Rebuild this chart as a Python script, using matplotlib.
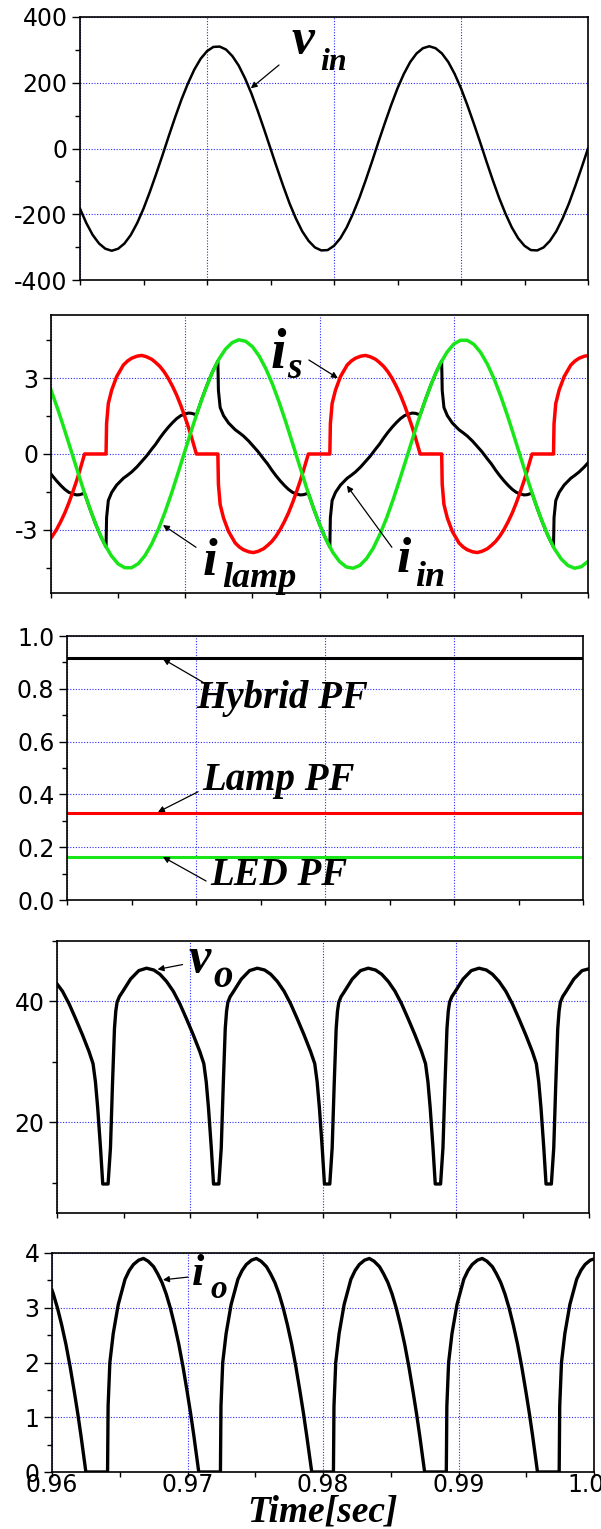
import numpy as np
import matplotlib
matplotlib.use('Agg')
import matplotlib.pyplot as plt
from matplotlib.ticker import MultipleLocator, FormatStrFormatter

plt.rcParams['axes.unicode_minus'] = False
plt.rcParams['font.family'] = 'DejaVu Sans'

# %% Data
# input voltage and lamp current, 0.5 ms samples
t_ac = np.linspace(0.96, 1.0, 81)
v_in = [-183, -227, -263, -289, -305, -311, -305, -289, -263, -227,
        -183, -132, -77, -20, 39, 96, 150, 198, 240, 273,
        296, 309, 310, 301, 281, 252, 213, 167, 114, 58,
        0, -58, -114, -167, -213, -252, -281, -301, -310, -309,
        -296, -273, -240, -198, -150, -96, -39, 20, 77, 132,
        183, 227, 263, 289, 305, 311, 305, 289, 263, 227,
        183, 132, 77, 20, -39, -96, -150, -198, -240, -273,
        -296, -309, -310, -301, -281, -252, -213, -167, -114, -58, 0]
i_lamp = [2.53, 1.78, 0.97, 0.13, -0.72, -1.55, -2.31, -3.00, -3.58, -4.03,
          -4.35, -4.50, -4.50, -4.34, -4.02, -3.56, -2.98, -2.29, -1.52, -0.69,
          0.16, 1.00, 1.81, 2.55, 3.21, 3.75, 4.15, 4.41, 4.52, 4.46,
          4.25, 3.88, 3.38, 2.76, 2.04, 1.25, 0.41, -0.44, -1.28, -2.07,
          -2.78, -3.40, -3.90, -4.26, -4.47, -4.52, -4.41, -4.14, -3.73, -3.18,
          -2.53, -1.78, -0.97, -0.13, 0.72, 1.55, 2.31, 3.00, 3.58, 4.03,
          4.35, 4.50, 4.50, 4.34, 4.02, 3.56, 2.98, 2.29, 1.52, 0.69,
          -0.16, -1.00, -1.81, -2.55, -3.21, -3.75, -4.15, -4.41, -4.52, -4.46,
          -4.25]

# LED side currents, sampled denser around the conduction edges
t_dc = [0.96000, 0.96010, 0.96041, 0.96072, 0.96103, 0.96134, 0.96165, 0.96190, 0.96214,
        0.96250, 0.96290, 0.96330, 0.96370, 0.96410, 0.96414, 0.96427, 0.96452, 0.96489,
        0.96539, 0.96570, 0.96601, 0.96640, 0.96675, 0.96710, 0.96750, 0.96780, 0.96812,
        0.96843, 0.96874, 0.96905, 0.96936, 0.96967, 0.96998, 0.97023, 0.97047,
        0.97083, 0.97123, 0.97163, 0.97203, 0.97243, 0.97247, 0.97260, 0.97285, 0.97322,
        0.97372, 0.97403, 0.97434, 0.97473, 0.97508, 0.97543, 0.97583, 0.97613, 0.97645,
        0.97676, 0.97707, 0.97738, 0.97769, 0.97800, 0.97831, 0.97856, 0.97880,
        0.97917, 0.97957, 0.97997, 0.98037, 0.98077, 0.98081, 0.98094, 0.98119, 0.98156,
        0.98206, 0.98237, 0.98268, 0.98307, 0.98342, 0.98377, 0.98417, 0.98447, 0.98479,
        0.98510, 0.98541, 0.98572, 0.98603, 0.98634, 0.98665, 0.98690, 0.98714,
        0.98750, 0.98790, 0.98830, 0.98870, 0.98910, 0.98914, 0.98927, 0.98952, 0.98989,
        0.99039, 0.99070, 0.99101, 0.99140, 0.99175, 0.99210, 0.99250, 0.99280, 0.99312,
        0.99343, 0.99374, 0.99405, 0.99436, 0.99467, 0.99498, 0.99523, 0.99547,
        0.99583, 0.99623, 0.99663, 0.99703, 0.99743, 0.99747, 0.99760, 0.99785, 0.99822,
        0.99872, 0.99903, 0.99934, 0.99973, 1.00000]
i_s = [-3.32, -3.25, -2.99, -2.68, -2.33, -1.92, -1.46, -1.07, -0.66,
       0, 0, 0, 0, 0, 1.20, 2.00, 2.53, 3.06,
       3.52, 3.68, 3.79, 3.87, 3.90, 3.85, 3.75, 3.62, 3.46,
       3.25, 2.99, 2.68, 2.33, 1.92, 1.46, 1.07, 0.66,
       0, 0, 0, 0, 0, -1.20, -2.00, -2.53, -3.06,
       -3.52, -3.68, -3.79, -3.87, -3.90, -3.85, -3.75, -3.62, -3.46,
       -3.25, -2.99, -2.68, -2.33, -1.92, -1.46, -1.07, -0.66,
       0, 0, 0, 0, 0, 1.20, 2.00, 2.53, 3.06,
       3.52, 3.68, 3.79, 3.87, 3.90, 3.85, 3.75, 3.62, 3.46,
       3.25, 2.99, 2.68, 2.33, 1.92, 1.46, 1.07, 0.66,
       0, 0, 0, 0, 0, -1.20, -2.00, -2.53, -3.06,
       -3.52, -3.68, -3.79, -3.87, -3.90, -3.85, -3.75, -3.62, -3.46,
       -3.25, -2.99, -2.68, -2.33, -1.92, -1.46, -1.07, -0.66,
       0, 0, 0, 0, 0, 1.20, 2.00, 2.53, 3.06,
       3.52, 3.68, 3.79, 3.87, 3.89]
i_in = [-0.79, -0.86, -1.06, -1.24, -1.40, -1.52, -1.58, -1.62, -1.61,
        -1.55, -2.17, -2.74, -3.25, -3.68, -2.52, -1.84, -1.52, -1.23,
        -0.96, -0.84, -0.71, -0.51, -0.30, -0.09, 0.19, 0.39, 0.64,
        0.86, 1.06, 1.24, 1.40, 1.52, 1.58, 1.62, 1.61,
        1.55, 2.17, 2.74, 3.25, 3.68, 2.52, 1.84, 1.52, 1.23,
        0.96, 0.84, 0.71, 0.51, 0.30, 0.09, -0.19, -0.39, -0.64,
        -0.86, -1.06, -1.24, -1.40, -1.52, -1.58, -1.62, -1.61,
        -1.55, -2.17, -2.74, -3.25, -3.68, -2.52, -1.84, -1.52, -1.23,
        -0.96, -0.84, -0.71, -0.51, -0.30, -0.09, 0.19, 0.39, 0.64,
        0.86, 1.06, 1.24, 1.40, 1.52, 1.58, 1.62, 1.61,
        1.55, 2.17, 2.74, 3.25, 3.68, 2.52, 1.84, 1.52, 1.23,
        0.96, 0.84, 0.71, 0.51, 0.30, 0.09, -0.19, -0.39, -0.64,
        -0.86, -1.06, -1.24, -1.40, -1.52, -1.58, -1.62, -1.61,
        -1.55, -2.17, -2.74, -3.25, -3.68, -2.52, -1.84, -1.52, -1.23,
        -0.96, -0.84, -0.71, -0.51, -0.35]
i_o = [3.32, 3.25, 2.99, 2.68, 2.33, 1.92, 1.46, 1.07, 0.66,
       0, 0, 0, 0, 0, 1.20, 2.00, 2.53, 3.06,
       3.52, 3.68, 3.79, 3.87, 3.90, 3.85, 3.75, 3.62, 3.46,
       3.25, 2.99, 2.68, 2.33, 1.92, 1.46, 1.07, 0.66,
       0, 0, 0, 0, 0, 1.20, 2.00, 2.53, 3.06,
       3.52, 3.68, 3.79, 3.87, 3.90, 3.85, 3.75, 3.62, 3.46,
       3.25, 2.99, 2.68, 2.33, 1.92, 1.46, 1.07, 0.66,
       0, 0, 0, 0, 0, 1.20, 2.00, 2.53, 3.06,
       3.52, 3.68, 3.79, 3.87, 3.90, 3.85, 3.75, 3.62, 3.46,
       3.25, 2.99, 2.68, 2.33, 1.92, 1.46, 1.07, 0.66,
       0, 0, 0, 0, 0, 1.20, 2.00, 2.53, 3.06,
       3.52, 3.68, 3.79, 3.87, 3.90, 3.85, 3.75, 3.62, 3.46,
       3.25, 2.99, 2.68, 2.33, 1.92, 1.46, 1.07, 0.66,
       0, 0, 0, 0, 0, 1.20, 2.00, 2.53, 3.06,
       3.52, 3.68, 3.79, 3.87, 3.89]

# power factors
t_pf = [0.96, 1.0]
pf_hybrid = [0.917, 0.917]
pf_lamp = [0.328, 0.328]
pf_led = [0.162, 0.162]

# output voltage
t_vo = [0.96000, 0.96041, 0.96091, 0.96141, 0.96191, 0.96241,
        0.96271, 0.96289, 0.96306, 0.96327, 0.96344, 0.96384, 0.96402, 0.96417,
        0.96432, 0.96442, 0.96452, 0.96469, 0.96490, 0.96553, 0.96615, 0.96673,
        0.96728, 0.96774, 0.96824, 0.96874, 0.96924, 0.96974, 0.97024, 0.97074,
        0.97104, 0.97122, 0.97139, 0.97160, 0.97177, 0.97217, 0.97235, 0.97250,
        0.97265, 0.97275, 0.97285, 0.97302, 0.97323, 0.97386, 0.97448, 0.97506,
        0.97561, 0.97607, 0.97657, 0.97707, 0.97757, 0.97807, 0.97857, 0.97907,
        0.97938, 0.97956, 0.97973, 0.97994, 0.98011, 0.98051, 0.98069, 0.98084,
        0.98099, 0.98109, 0.98119, 0.98136, 0.98157, 0.98220, 0.98282, 0.98340,
        0.98395, 0.98441, 0.98491, 0.98541, 0.98591, 0.98641, 0.98691, 0.98741,
        0.98771, 0.98789, 0.98806, 0.98827, 0.98844, 0.98884, 0.98902, 0.98917,
        0.98932, 0.98942, 0.98952, 0.98969, 0.98990, 0.99053, 0.99115, 0.99173,
        0.99228, 0.99274, 0.99324, 0.99374, 0.99424, 0.99474, 0.99524, 0.99574,
        0.99604, 0.99622, 0.99639, 0.99660, 0.99677, 0.99717, 0.99735, 0.99750,
        0.99765, 0.99775, 0.99785, 0.99802, 0.99823, 0.99886, 0.99948, 1.00000]
v_o = [42.9, 41.7, 39.6, 37.1, 34.5, 31.7,
       29.7, 26.7, 22.4, 15.8, 9.8, 9.8, 15.8, 26.2,
       35.5, 38.4, 39.9, 40.8, 41.5, 43.7, 45.1, 45.5,
       45.2, 44.5, 43.3, 41.7, 39.6, 37.1, 34.5, 31.7,
       29.7, 26.7, 22.4, 15.8, 9.8, 9.8, 15.8, 26.2,
       35.5, 38.4, 39.9, 40.8, 41.5, 43.7, 45.1, 45.5,
       45.2, 44.5, 43.3, 41.7, 39.6, 37.1, 34.5, 31.7,
       29.7, 26.7, 22.4, 15.8, 9.8, 9.8, 15.8, 26.2,
       35.5, 38.4, 39.9, 40.8, 41.5, 43.7, 45.1, 45.5,
       45.2, 44.5, 43.3, 41.7, 39.6, 37.1, 34.5, 31.7,
       29.7, 26.7, 22.4, 15.8, 9.8, 9.8, 15.8, 26.2,
       35.5, 38.4, 39.9, 40.8, 41.5, 43.7, 45.1, 45.5,
       45.2, 44.5, 43.3, 41.7, 39.6, 37.1, 34.5, 31.7,
       29.7, 26.7, 22.4, 15.8, 9.8, 9.8, 15.8, 26.2,
       35.5, 38.4, 39.9, 40.8, 41.5, 43.7, 45.1, 45.4]

GREEN = '#19e619'
RED = '#ff0000'
GRID = '#2b2bff'

# %% Figure layout (panel boxes in pixels: left, right, top, bottom)
W, H = 601.0, 1529.0
fig = plt.figure(figsize=(W / 100, H / 100), dpi=100)


def panel(l, r, top, bot):
    ax = fig.add_axes([l / W, 1 - bot / H, (r - l) / W, (bot - top) / H])
    ax.set_xlim(0.96, 1.0)
    ax.xaxis.set_major_locator(MultipleLocator(0.01))
    ax.xaxis.set_minor_locator(MultipleLocator(0.005))
    ax.tick_params(which='both', direction='out', top=False, right=False,
                   width=1.0, labelsize=17, labelbottom=False)
    ax.tick_params(axis='y', which='major', length=5.8, pad=3.2)
    ax.tick_params(axis='y', which='minor', length=3.6)
    ax.tick_params(axis='x', which='both', length=3.5)
    ax.grid(True, which='major', color=GRID, linestyle=(0, (1, 1.5)),
            linewidth=0.8)
    for s in ax.spines.values():
        s.set_linewidth(1.2)
    return ax


def sym(ax, x, y, s, size):
    ax.text(x, y, s, fontsize=size, family='Liberation Serif',
            weight='bold', style='italic', ha='left', va='baseline')


def pointer(ax, tail, head):
    ax.annotate('', xy=head, xytext=tail,
                arrowprops=dict(arrowstyle='-|>', color='k', lw=0.9,
                                mutation_scale=9, shrinkA=0, shrinkB=0))


# Panel 1: input voltage
ax1 = panel(80, 588, 17, 280)
ax1.plot(t_ac, v_in, color='k', lw=1.8)
ax1.set_ylim(-400, 400)
ax1.yaxis.set_major_locator(MultipleLocator(200))
ax1.yaxis.set_minor_locator(MultipleLocator(100))
sym(ax1, 0.97669, 290, 'v', 37)
sym(ax1, 0.97890, 239, 'in', 23)
pointer(ax1, (0.97567, 254), (0.97345, 183))

# Panel 2: currents
ax2 = panel(51, 588, 315, 593)
ax2.plot(t_dc, i_in, color='k', lw=2.2)
ax2.plot(t_dc, i_s, color=RED, lw=2.5)
ax2.plot(t_ac, i_lamp, color=GREEN, lw=2.5)
ax2.set_ylim(-5.5, 5.5)
ax2.yaxis.set_major_locator(MultipleLocator(3))
ax2.yaxis.set_minor_locator(MultipleLocator(1.5))
sym(ax2, 0.97638, 3.4, 'i', 40)
sym(ax2, 0.97757, 3.0, 's', 27)
pointer(ax2, (0.97921, 3.72), (0.98137, 3.0))
sym(ax2, 0.97132, -4.78, 'i', 38)
sym(ax2, 0.97273, -5.26, 'lamp', 26)
pointer(ax2, (0.97080, -3.69), (0.96834, -2.81))
sym(ax2, 0.98576, -4.66, 'i', 37)
sym(ax2, 0.98710, -5.22, 'in', 26)
pointer(ax2, (0.98539, -3.69), (0.98204, -1.25))

# Panel 3: power factors
ax3 = panel(67, 583, 636, 900)
ax3.plot(t_pf, pf_hybrid, color='k', lw=2.2)
ax3.plot(t_pf, pf_lamp, color=RED, lw=2.2)
ax3.plot(t_pf, pf_led, color=GREEN, lw=2.2)
ax3.set_ylim(0, 1)
ax3.yaxis.set_major_locator(MultipleLocator(0.2))
ax3.yaxis.set_minor_locator(MultipleLocator(0.1))
ax3.yaxis.set_major_formatter(FormatStrFormatter('%.1f'))
sym(ax3, 0.9700, 0.727, 'Hybrid PF', 28)
pointer(ax3, (0.97078, 0.818), (0.96744, 0.913))
sym(ax3, 0.97047, 0.417, 'Lamp PF', 28)
pointer(ax3, (0.97016, 0.41), (0.96705, 0.333))
sym(ax3, 0.97109, 0.057, 'LED PF', 28)
pointer(ax3, (0.97078, 0.072), (0.96744, 0.163))

# Panel 4: output voltage
ax4 = panel(57, 589, 941, 1213)
ax4.plot(t_vo, v_o, color='k', lw=2.4)
ax4.set_ylim(5, 50)
ax4.yaxis.set_major_locator(MultipleLocator(20))
ax4.yaxis.set_minor_locator(MultipleLocator(10))
sym(ax4, 0.96989, 44.8, 'v', 36)
sym(ax4, 0.97178, 42.4, 'o', 28)
pointer(ax4, (0.96944, 46.1), (0.96756, 45.3))

# Panel 5: output current
ax5 = panel(52, 594, 1253, 1472)
ax5.plot(t_dc, i_o, color='k', lw=2.4)
ax5.set_ylim(0, 4)
ax5.yaxis.set_major_locator(MultipleLocator(1))
ax5.yaxis.set_minor_locator(MultipleLocator(0.5))
ax5.xaxis.set_major_formatter(FormatStrFormatter('%.2f'))
ax5.tick_params(axis='x', labelbottom=True, pad=-2.5)
sym(ax5, 0.97033, 3.42, 'i', 32)
sym(ax5, 0.97166, 3.18, 'o', 24)
pointer(ax5, (0.97004, 3.56), (0.96819, 3.51))
ax5.set_xlabel('Time[sec]', fontsize=27, family='Liberation Serif',
               weight='bold', style='italic', labelpad=-2)

fig.savefig('out.png', dpi=100)
